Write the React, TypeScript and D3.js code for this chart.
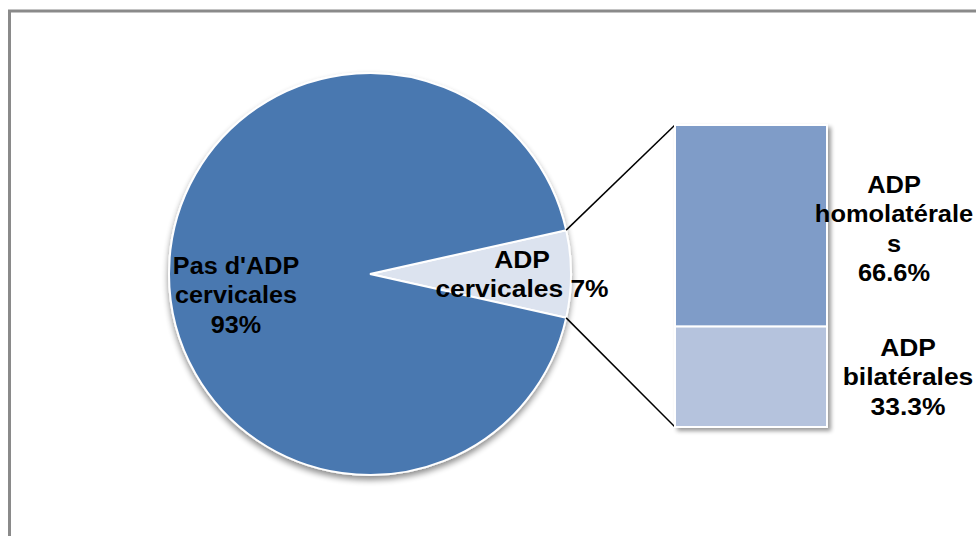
import React from "react";
import * as d3 from "d3";

const pieCategories = ["Pas d'ADP cervicales", "ADP cervicales"];
const pieValues = [93, 7];
const pieLabels = [["Pas d'ADP", "cervicales", "93%"], ["ADP", "cervicales 7%"]];
const barCategories = ["ADP bilatérales", "ADP homolatérales"];
const barValues = [33.3, 66.6];
const barLabels = [["ADP", "bilatérales", "33.3%"], ["ADP", "homolatérale", "s", "66.6%"]];

const W = 976, H = 536;
const FONT = "'Liberation Sans', Arial, sans-serif";

export default function App() {
  const cx = 370, cy = 274, r = 201;
  const smallFrac = pieValues[1] / d3.sum(pieValues);
  const start = Math.PI / 2 - smallFrac * Math.PI;
  const pie = d3.pie<number>().sort(null).startAngle(start).endAngle(start + 2 * Math.PI);
  const arcs = pie([pieValues[1], pieValues[0]]);
  const arc = d3.arc<d3.PieArcDatum<number>>().innerRadius(0).outerRadius(r);
  const pieColors = ["#dce3ef", "#4a78b0"];

  const small = arcs[0];
  const pt = (a: number) => [cx + r * Math.sin(a), cy - r * Math.cos(a)];
  const [ux, uy] = pt(small.startAngle);
  const [lx, ly] = pt(small.endAngle);

  const bx0 = 675, bx1 = 827;
  const y = d3.scaleLinear().domain([0, d3.sum(barValues)]).range([427, 125]);
  const barColors = ["#b5c3dd", "#7f9cc8"];
  let acc = 0;
  const bars = barValues.map((v, i) => {
    const y0 = y(acc), y1 = y(acc + v);
    acc += v;
    return { i, y0, y1 };
  });

  const lh = 29.5;
  const textStyle = { fontFamily: FONT, fontWeight: 700, fontSize: 24, fill: "#000" } as React.CSSProperties;

  const block = (lines: string[], x: number, firstBaseline: number, key: string, sx: number) => (
    <g key={key} transform={`translate(${x},0) scale(${sx},1)`}>
      <text x={0} y={firstBaseline} textAnchor="middle" style={textStyle}>
        {lines.map((l, k) => (
          <tspan key={k} x={0} dy={k === 0 ? 0 : lh}>{l}</tspan>
        ))}
      </text>
    </g>
  );

  return (
    <svg width={W} height={H} style={{ position: "absolute", left: 0, top: 0, background: "#fff" }}>
      <defs>
        <filter id="sh" x="-20%" y="-20%" width="140%" height="140%">
          <feGaussianBlur in="SourceAlpha" stdDeviation="3" />
          <feOffset dx="0" dy="4" result="b" />
          <feComponentTransfer><feFuncA type="linear" slope="0.45" /></feComponentTransfer>
          <feMerge><feMergeNode /><feMergeNode in="SourceGraphic" /></feMerge>
        </filter>
        <filter id="shb" x="-20%" y="-20%" width="140%" height="140%">
          <feGaussianBlur in="SourceAlpha" stdDeviation="2" />
          <feOffset dx="3" dy="3" result="b" />
          <feComponentTransfer><feFuncA type="linear" slope="0.4" /></feComponentTransfer>
          <feMerge><feMergeNode /><feMergeNode in="SourceGraphic" /></feMerge>
        </filter>
      </defs>
      <rect x={9.5} y={11} width={1000} height={600} fill="#fff" stroke="#8a8a8a" strokeWidth={3} />
      <g filter="url(#sh)" transform={`translate(${cx},${cy})`}>
        {arcs.map((a, i) => (
          <path key={i} d={arc(a) || ""} fill={pieColors[i]} stroke="#fff" strokeWidth={2} />
        ))}
      </g>
      <line x1={ux} y1={uy} x2={bx0} y2={y(d3.sum(barValues))} stroke="#000" strokeWidth={1.5} />
      <line x1={lx} y1={ly} x2={bx0} y2={y(0)} stroke="#000" strokeWidth={1.5} />
      <g filter="url(#shb)">
        {bars.map((b) => (
          <rect key={b.i} x={bx0} y={b.y1} width={bx1 - bx0} height={b.y0 - b.y1} fill={barColors[b.i]} stroke="#fff" strokeWidth={2} />
        ))}
      </g>
      {block(pieLabels[0], 236, 274, "p0", 1.05)}
      {block(pieLabels[1], 522, 268, "p1", 1.1)}
      {block(barLabels[1], 894, 193, "b1", 1.06)}
      {block(barLabels[0], 908, 356, "b0", 1.1)}
    </svg>
  );
}
